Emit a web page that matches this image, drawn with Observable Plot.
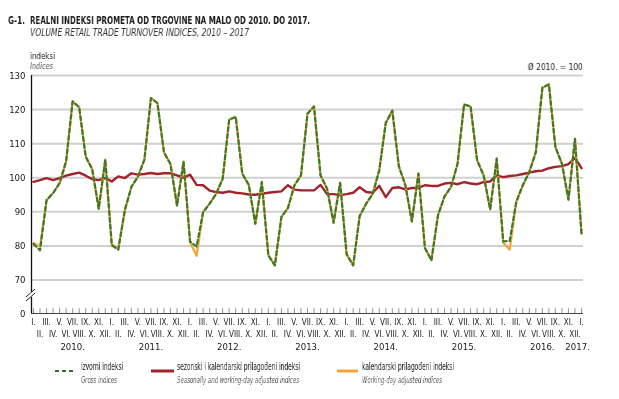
<!DOCTYPE html>
<html>
<head>
<meta charset="utf-8">
<script src="https://cdn.jsdelivr.net/npm/d3@7"></script>
<script src="https://cdn.jsdelivr.net/npm/@observablehq/plot@0.6"></script>
<style>
  html, body { margin: 0; padding: 0; background: #fff; }
  body { width: 619px; height: 399px; position: relative; overflow: hidden;
         font-family: "Liberation Sans Narrow", "DejaVu Sans Condensed", "Roboto Condensed", "Arial Narrow", sans-serif; color: #1a1a1a; }
  .abs { position: absolute; white-space: nowrap; line-height: 1; will-change: transform; }
  #chart { position: absolute; left: 0; top: 70px; will-change: transform; }
  .it { font-style: italic; color: #555; }
</style>
</head>
<body>
<div class="abs fit" data-w="17" style="left:8px; top:15px; font-size:11px; font-weight:bold;">G-1.</div>
<div class="abs fit" data-w="280" style="left:30px; top:15px; font-size:11px; font-weight:bold;">REALNI INDEKSI PROMETA OD TRGOVINE NA MALO OD 2010. DO 2017.</div>
<div class="abs it fit" data-w="219" style="left:30px; top:27.5px; font-size:10px; color:#333;">VOLUME RETAIL TRADE TURNOVER INDICES, 2010 – 2017</div>
<div class="abs fit" data-w="25" style="left:30px; top:51px; font-size:9.5px;">indeksi</div>
<div class="abs it fit" data-w="23" style="left:30px; top:62px; font-size:8.5px;">Indices</div>
<div class="abs fit" data-w="55" data-origin="right" style="right:36px; top:62px; font-size:9.5px;">Ø 2010. = 100</div>
<div id="chart"></div>
<div id="legend"></div>
<script>
// ---- data ----
const monthLabels = ["I.","II.","III.","IV.","V.","VI.","VII.","VIII.","IX.","X.","XI.","XII."];
const yearLabels = ["2010.","2011.","2012.","2013.","2014.","2015.","2016.","2017."];
const yTicks = [0, 70, 80, 90, 100, 110, 120, 130];
const gridTicks = [70, 80, 90, 100, 110, 120, 130];

// izvorni indeksi (gross), Jan 2010 – Jan 2017
const gross = [
  80.6, 78.7, 93.4, 95.5, 98.4, 104.8, 122.4, 120.7, 106.2, 102.5, 90.9, 105.3,
  80.2, 78.9, 90.5, 97.3, 100.3, 105.3, 123.4, 121.9, 107.5, 104.0, 91.8, 104.7,
  81.3, 79.8, 89.9, 92.4, 95.3, 99.7, 117.1, 117.8, 101.2, 97.9, 86.5, 98.7,
  77.2, 74.3, 88.5, 91.1, 97.8, 100.7, 118.8, 120.9, 100.7, 96.8, 86.8, 98.5,
  77.5, 74.3, 88.8, 92.4, 95.3, 102.2, 116.1, 119.7, 103.4, 97.8, 87.2, 101.2,
  79.4, 75.8, 89.0, 94.5, 97.3, 104.1, 121.5, 120.9, 105.1, 100.7, 90.7, 105.6,
  81.3, 81.5, 92.9, 97.8, 101.7, 107.5, 126.4, 127.4, 109.0, 104.1, 93.6, 111.4,
  83.6
];
// sezonski i kalendarski prilagođeni indeksi
const seasonal = [
  98.8, 99.3, 99.9, 99.3, 99.9, 100.6, 101.1, 101.5, 100.6, 99.6, 99.3, 99.9,
  98.9, 100.4, 99.9, 101.3, 100.9, 101.1, 101.4, 101.1, 101.3, 101.3, 100.7, 100.0,
  100.9, 97.9, 97.8, 96.2, 95.8, 95.6, 96.0, 95.6, 95.4, 95.1, 95.0, 95.3,
  95.6, 95.8, 96.0, 97.8, 96.5, 96.3, 96.3, 96.3, 97.9, 95.2, 95.2, 94.9,
  95.2, 95.6, 97.2, 95.8, 95.6, 97.6, 94.3, 97.0, 97.2, 96.6, 97.0, 97.0,
  97.8, 97.6, 97.6, 98.3, 98.5, 98.1, 98.7, 98.3, 98.1, 98.7, 98.9, 100.7,
  100.2, 100.5, 100.7, 101.1, 101.5, 101.9, 102.1, 102.8, 103.2, 103.4, 104.0, 105.8,
  102.8
];
// kalendarski prilagođeni indeksi
const calendar = [
  80.9, 79.8, 93.4, 95.5, 98.4, 104.8, 122.4, 120.7, 106.2, 102.5, 90.9, 105.3,
  80.4, 79.2, 90.5, 97.3, 100.3, 105.3, 123.4, 121.9, 107.5, 104.0, 91.8, 104.7,
  81.0, 77.1, 89.9, 92.4, 95.3, 99.7, 117.1, 117.8, 101.2, 97.9, 86.5, 98.7,
  77.2, 74.3, 88.5, 91.1, 97.8, 100.7, 118.8, 120.9, 100.7, 96.8, 86.8, 98.5,
  77.5, 74.3, 88.8, 92.4, 95.3, 102.2, 116.1, 119.7, 103.4, 97.8, 87.2, 101.2,
  79.4, 75.8, 89.0, 94.5, 97.3, 104.1, 121.5, 120.9, 105.1, 100.7, 90.7, 105.6,
  81.0, 78.9, 92.9, 97.8, 101.7, 107.5, 126.4, 127.4, 109.0, 104.1, 93.6, 111.4,
  83.6
];

const colGross = "#3a7a2c", colSeas = "#a3232b", colCal = "#f4a534";
const font = '"Liberation Sans Narrow", "DejaVu Sans Condensed", "Roboto Condensed", "Arial Narrow", sans-serif';

const data = gross.map((v, i) => ({i, gross: v, seasonal: seasonal[i], calendar: calendar[i], month: monthLabels[i % 12]}));
const years = yearLabels.map((label, k) => ({label, i: Math.min(12 * k + 6, 83.4)}));

// broken y axis: values below 70 are compressed into a short segment (0 sits just under 70)
const breakGap = 9.83;
const yBreak = v => (v < 70 ? 70 - (70 - v) * breakGap / 70 : v);

const plot = Plot.plot({
  width: 619,
  height: 285,
  marginLeft: 31,
  marginRight: 36,
  marginTop: 5,
  marginBottom: 42,
  x: {domain: [0, 84], insetLeft: 2, insetRight: 2, axis: null},
  y: {transform: yBreak, domain: [70 - breakGap, 130], axis: null},
  style: {fontFamily: font, fontSize: "9px", color: "#1a1a1a", background: "transparent", overflow: "visible"},
  marks: [
    Plot.ruleY(gridTicks, {stroke: "#d0d0d0", strokeWidth: 2}),
    Plot.ruleY([0], {stroke: "#444", strokeWidth: 1}),
    Plot.ruleX(data, {x: "i", y1: 0, y2: 10, stroke: "#666", strokeWidth: 0.7}),
    Plot.ruleX([0], {dx: -2, y1: 0, y2: 130, stroke: "#111", strokeWidth: 1.3}),
    Plot.text(yTicks, {y: d => d, text: d => String(d), frameAnchor: "left", textAnchor: "end", dx: -6, fontSize: 9.5}),
    Plot.text(data.filter(d => d.i % 2 === 0), {x: "i", text: "month", frameAnchor: "bottom", dy: 11, fontSize: 8}),
    Plot.text(data.filter(d => d.i % 2 === 1), {x: "i", text: "month", frameAnchor: "bottom", dy: 23, fontSize: 8}),
    Plot.text(years, {x: "i", text: "label", frameAnchor: "bottom", dy: 36, fontSize: 9.5}),
    Plot.line(data, {x: "i", y: "seasonal", stroke: colSeas, strokeWidth: 2.4}),
    Plot.line(data, {x: "i", y: "calendar", stroke: colCal, strokeWidth: 2.2}),
    Plot.line(data, {x: "i", y: "gross", stroke: colGross, strokeWidth: 2.2, strokeDasharray: "4,3"})
  ]
});
document.getElementById("chart").appendChild(plot);

// axis break marks on the y axis
(function () {
  const xs = plot.scale("x");
  const ys = plot.scale("y");
  const ax = xs.apply(0) - 2;
  const yb = ys.range[0] - 18;
  const svg = d3.select(plot);
  svg.append("rect").attr("x", ax - 3).attr("y", yb - 3).attr("width", 6).attr("height", 5).attr("fill", "#fff");
  svg.append("line").attr("x1", ax - 5).attr("y1", yb + 2).attr("x2", ax + 4).attr("y2", yb - 6).attr("stroke", "#222").attr("stroke-width", 1);
  svg.append("line").attr("x1", ax - 5).attr("y1", yb + 6).attr("x2", ax + 4).attr("y2", yb - 2).attr("stroke", "#222").attr("stroke-width", 1);
})();

// legend
const legendItems = [
  {x: 55, w: 19, textX: 81, color: "#2f6a34", dash: "4,3", sw: 2, hr: "izvorni indeksi", hrW: 42, en: "Gross indices", enW: 36},
  {x: 151, w: 23, textX: 177, color: colSeas, dash: null, sw: 3, hr: "sezonski i kalendarski prilagođeni indeksi", hrW: 123, en: "Seasonally and working-day adjusted indices", enW: 122},
  {x: 337, w: 21, textX: 362, color: colCal, dash: null, sw: 3, hr: "kalendarski prilagođeni indeksi", hrW: 92, en: "Working-day adjusted indices", enW: 80}
];
const leg = document.getElementById("legend");
legendItems.forEach(it => {
  const s = document.createElementNS("http://www.w3.org/2000/svg", "svg");
  s.setAttribute("width", it.w); s.setAttribute("height", 6);
  s.style.position = "absolute"; s.style.left = it.x + "px"; s.style.top = "368px";
  const l = document.createElementNS("http://www.w3.org/2000/svg", "line");
  l.setAttribute("x1", 0); l.setAttribute("x2", it.w); l.setAttribute("y1", 3); l.setAttribute("y2", 3);
  l.setAttribute("stroke", it.color); l.setAttribute("stroke-width", it.sw);
  if (it.dash) l.setAttribute("stroke-dasharray", it.dash);
  s.appendChild(l); leg.appendChild(s);
  const a = document.createElement("div");
  a.className = "abs fit"; a.dataset.w = it.hrW; a.style.left = it.textX + "px"; a.style.top = "362px"; a.style.fontSize = "10px";
  a.textContent = it.hr; leg.appendChild(a);
  const b = document.createElement("div");
  b.className = "abs it fit"; b.dataset.w = it.enW; b.style.left = it.textX + "px"; b.style.top = "374.5px"; b.style.fontSize = "9.5px";
  b.textContent = it.en; leg.appendChild(b);
});

// squeeze HTML texts horizontally to the condensed widths of the original
document.querySelectorAll(".fit").forEach(el => {
  const w = el.getBoundingClientRect().width;
  const target = +el.dataset.w;
  if (w > 0 && target) {
    el.style.transformOrigin = el.dataset.origin === "right" ? "right center" : "left center";
    el.style.transform = `scaleX(${Math.min(1.2, target / w)})`;
  }
});
</script>
</body>
</html>
